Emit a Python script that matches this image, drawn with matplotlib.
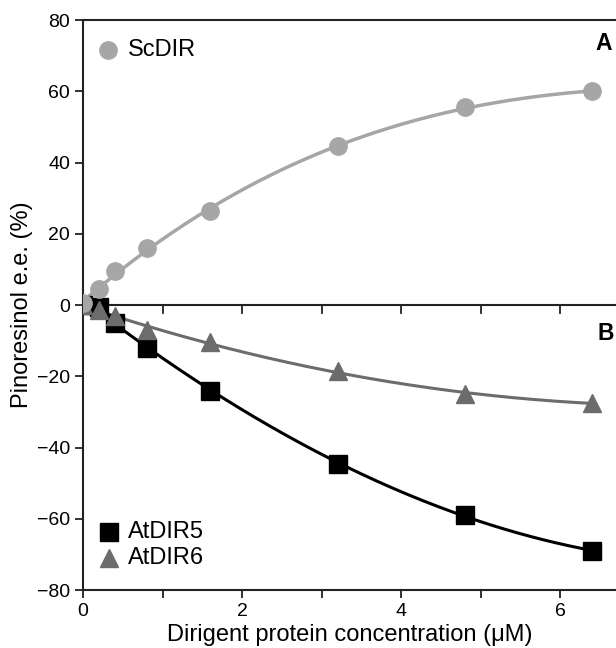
import numpy as np
import matplotlib
matplotlib.use("Agg")
import matplotlib.pyplot as plt

plt.rcParams['font.family'] = ['Liberation Sans', 'DejaVu Sans']

conc = [0, 0.2, 0.4, 0.8, 1.6, 3.2, 4.8, 6.4]
scdir = [0.5, 4.5, 9.5, 16, 26.5, 44.5, 55.5, 60]
atdir5 = [0, -0.5, -5, -12, -24, -44.5, -59, -69]
atdir6 = [0, -1.5, -3, -7, -10.5, -18.5, -25, -27.5]

c_sc = '#a6a6a6'
c_6 = '#6c6c6c'
c_5 = '#000000'

fig = plt.figure(figsize=(6.16, 6.48), dpi=100)
ax = fig.add_axes([0.135, 0.0895, 0.865, 0.8796])

xs = np.linspace(0, 6.4, 200)
for y, col, lw in [(scdir, c_sc, 2.5), (atdir6, c_6, 2.2), (atdir5, c_5, 2.2)]:
    p = np.polyfit(conc, y, 3)
    ax.plot(xs, np.polyval(p, xs), color=col, lw=lw, zorder=2)

ax.axhline(0, color='#222222', lw=1.5, zorder=1)
ax.plot(conc, atdir5, 's', color=c_5, ms=13, zorder=3)
ax.plot(conc, atdir6, '^', color=c_6, ms=13.5, zorder=4)
ax.plot(conc, scdir, 'o', color=c_sc, ms=12.5, zorder=5)

# ticks on zero line
for t in range(0, 7):
    ax.plot([t, t], [0, -2.2], color='#222222', lw=1.3, zorder=1, clip_on=False)

ax.set_xlim(0, 6.7)
ax.set_ylim(-80, 80)
ax.set_xticks(range(0, 7))
ax.set_xticklabels(['0', '', '2', '', '4', '', '6'])
ax.set_yticks(range(-80, 81, 20))
ax.set_yticklabels(['\u221280', '\u221260', '\u221240', '\u221220', '0', '20', '40', '60', '80'])
ax.tick_params(direction='out', length=6, width=1.3, labelsize=14, color='#222222')
for s in ['left', 'bottom', 'top']:
    ax.spines[s].set_linewidth(1.5)
    ax.spines[s].set_color('#222222')
ax.spines['right'].set_visible(False)

ax.set_xlabel('Dirigent protein concentration (\u03bcM)', fontsize=17, labelpad=3)
ax.set_ylabel('Pinoresinol e.e. (%)', fontsize=17, labelpad=3)

# legends
ax.plot([0.31], [71.6], 'o', color=c_sc, ms=12.5)
ax.text(0.56, 71.6, 'ScDIR', fontsize=17, va='center')
ax.plot([0.32], [-63.7], 's', color=c_5, ms=13)
ax.text(0.56, -63.7, 'AtDIR5', fontsize=17, va='center')
ax.plot([0.32], [-71], '^', color=c_6, ms=13.5)
ax.text(0.56, -71, 'AtDIR6', fontsize=17, va='center')

ax.text(6.65, 73.5, 'A', fontsize=16.5, fontweight='bold', ha='right', va='center')
ax.text(6.67, -8, 'B', fontsize=16.5, fontweight='bold', ha='right', va='center')

fig.savefig('out.png', dpi=100)
